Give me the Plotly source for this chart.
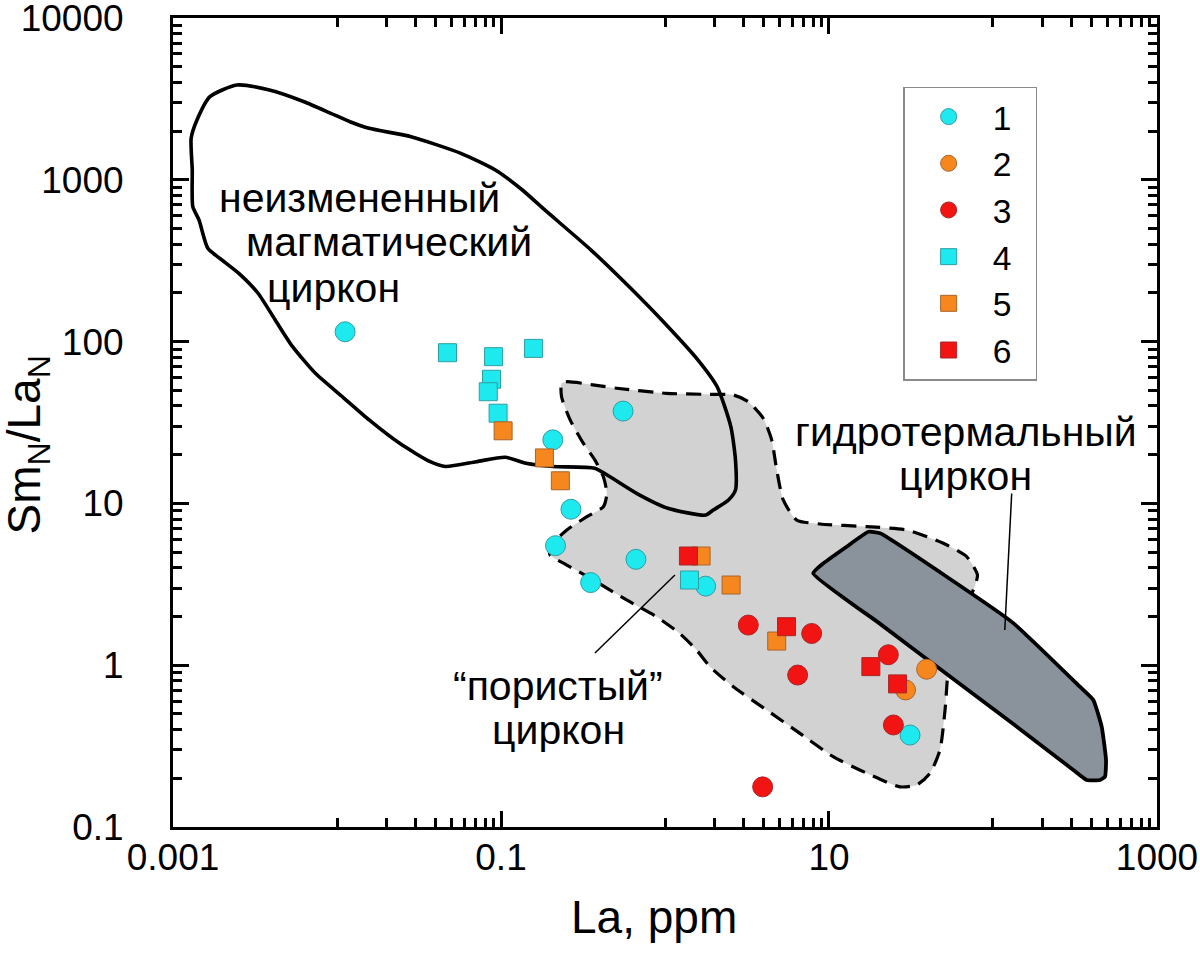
import numpy as np
import plotly.graph_objects as go

# --- data points (La, ppm ; SmN/LaN) ---
s1_la = [0.0112, 0.555, 0.207, 0.267, 0.215, 0.352, 0.665, 1.77, 31.2]
s1_smla = [115, 37.2, 24.7, 9.2, 5.48, 3.24, 4.51, 3.08, 0.37]
s2_la = [39.4, 29.3]
s2_smla = [0.944, 0.703]
s3_la = [3.22, 7.84, 6.44, 23.0, 24.7, 3.94]
s3_smla = [1.77, 1.57, 0.869, 1.16, 0.427, 0.177]
s4_la = [0.0472, 0.0901, 0.158, 0.0875, 0.0836, 0.096, 1.41]
s4_smla = [85.4, 80.7, 90.8, 58.5, 49.0, 36.1, 3.36]
s5_la = [0.103, 0.184, 0.230, 1.66, 2.53, 4.80]
s5_smla = [28.1, 19.1, 13.8, 4.73, 3.13, 1.41]
s6_la = [1.39, 5.51, 18.0, 26.2]
s6_smla = [4.73, 1.73, 0.98, 0.766]

# --- field outlines ---
magm_la = [0.00245, 0.00168, 0.0014, 0.00129, 0.00131, 0.00132, 0.00144, 0.00163, 0.00193, 0.00252,
           0.0033, 0.0042, 0.00536, 0.00738, 0.0108, 0.0157, 0.0241, 0.037, 0.0459, 0.0707,
           0.106, 0.142, 0.206, 0.373, 0.462, 0.675, 1.04, 1.77, 1.97, 2.44,
           2.69, 2.69, 2.52, 2.08, 1.59, 1.04, 0.605, 0.354, 0.185, 0.135,
           0.0923, 0.0569, 0.0283, 0.0157, 0.012, 0.00917, 0.0063, 0.00387, 0.00245]
magm_smla = [3855, 3265, 2344, 1805, 1150, 682, 565, 377, 327, 264,
             199, 136, 93, 63.7, 45.6, 32.8, 23.5, 18.1, 16.9, 18.1,
             19.3, 17.7, 16.9, 16.5, 14.6, 11.5, 9.33, 8.47, 9.1, 10.5,
             12.1, 18.5, 29.8, 52.6, 76.9, 124, 218, 368, 651, 865,
             1150, 1458, 1847, 2080, 2286, 2576, 3038, 3590, 3855]

por_la = [0.234, 0.252, 0.507, 1.02, 1.80, 2.61, 3.22, 3.97, 4.47, 4.80,
          5.26, 6.35, 8.81, 17.0, 29.8, 49.8, 69.1, 80.4, 75.9, 62.9,
          54.7, 51.0, 47.5, 41.3, 34.3, 27.1, 17.0, 10.6, 6.65, 4.17,
          2.61, 1.88, 1.56, 1.23, 0.889, 0.583, 0.366, 0.252, 0.199, 0.199,
          0.252, 0.334, 0.421, 0.442, 0.421, 0.374, 0.318, 0.264, 0.234, 0.234]
por_smla = [55.2, 56.5, 51.5, 47.9, 47.2, 46.8, 42.5, 33.6, 24.7, 16.1,
            10.5, 7.89, 7.46, 7.18, 6.85, 5.67, 4.69, 3.61, 2.92, 2.04,
            1.24, 0.528, 0.299, 0.215, 0.182, 0.177, 0.215, 0.272, 0.379, 0.528,
            0.736, 0.979, 1.24, 1.57, 1.99, 2.53, 3.36, 4.16, 4.80, 5.40,
            6.85, 8.28, 9.54, 11.5, 14.6, 18.5, 23.5, 32.8, 45.6, 55.2]

hyd_la = [8.02, 9.23, 12.8, 17.4, 20.5, 52.2, 133, 339, 409, 460, 489, 482, 449, 373, 309, 133, 52.2, 20.5, 8.02]
hyd_smla = [3.70, 4.26, 5.40, 6.68, 6.53, 3.52, 1.82, 0.736, 0.610, 0.417, 0.259, 0.205, 0.195, 0.195, 0.225,
            0.433, 0.883, 1.80, 3.70]

lead_por_la = [0.374, 1.15]
lead_por_smla = [1.19, 3.61]
lead_hyd_la = [130, 118]
lead_hyd_smla = [11.5, 1.65]

x_ticks = [0.001, 0.1, 10, 1000]
x_labels = ["0.001", "0.1", "10", "1000"]
y_ticks = [0.1, 1, 10, 100, 1000, 10000]
y_labels = ["0.1", "1", "10", "100", "1000", "10000"]

FONT = "Liberation Sans, Arial, sans-serif"
CYAN, CYAN_E = "#1ee9ee", "#2f9ea3"
ORANGE, ORANGE_E = "#f6871f", "#a8642c"
RED, RED_E = "#f21313", "#a8262a"

fig = go.Figure()

# porous zircon field (light grey, dashed)
fig.add_trace(go.Scatter(x=por_la, y=por_smla, mode="lines", fill="toself", fillcolor="#d2d2d2",
                         line=dict(color="black", width=3.2, dash="15px,9px", shape="spline", smoothing=0.6),
                         hoverinfo="skip", showlegend=False))
# unaltered magmatic zircon field
fig.add_trace(go.Scatter(x=magm_la, y=magm_smla, mode="lines",
                         line=dict(color="black", width=3.6, shape="spline", smoothing=0.6),
                         hoverinfo="skip", showlegend=False))
# hydrothermal zircon field
fig.add_trace(go.Scatter(x=hyd_la, y=hyd_smla, mode="lines", fill="toself", fillcolor="#8a939b",
                         line=dict(color="black", width=3.8, shape="spline", smoothing=0.4),
                         hoverinfo="skip", showlegend=False))
# leader lines
for lx, ly in [(lead_por_la, lead_por_smla), (lead_hyd_la, lead_hyd_smla)]:
    fig.add_trace(go.Scatter(x=lx, y=ly, mode="lines", line=dict(color="black", width=1.5),
                             hoverinfo="skip", showlegend=False))

series = [
    ("1", s1_la, s1_smla, "circle", CYAN, CYAN_E, 20),
    ("2", s2_la, s2_smla, "circle", ORANGE, ORANGE_E, 20),
    ("3", s3_la, s3_smla, "circle", RED, RED_E, 20),
    ("4", s4_la, s4_smla, "square", CYAN, CYAN_E, 18),
    ("5", s5_la, s5_smla, "square", ORANGE, ORANGE_E, 18),
    ("6", s6_la, s6_smla, "square", RED, RED_E, 18),
]
for name, xs, ys, sym, col, edge, size in series:
    fig.add_trace(go.Scatter(x=xs, y=ys, mode="markers", name=name + "\u00a0\u00a0",
                             marker=dict(symbol=sym, size=size, color=col, line=dict(color=edge, width=1))))

# field labels: (text, La, SmN/LaN, anchor)
labels = [
    ("неизмененный", 0.00185, 770, "left"),
    ("магматический", 0.00271, 410, "left"),
    ("циркон", 0.00364, 214, "left"),
    ("гидротермальный", 68.4, 27.6, "center"),
    ("циркон", 68.4, 14.8, "center"),
    ("“пористый”", 0.224, 0.743, "center"),
    ("циркон", 0.224, 0.398, "center"),
]
for txt, lx, ly, anc in labels:
    fig.add_annotation(x=np.log10(lx), y=np.log10(ly), text=txt, showarrow=False,
                       xanchor=anc, yanchor="middle", font=dict(size=41, color="black", family=FONT))

# axis titles
fig.add_annotation(x=0.489, y=-0.111, xref="paper", yref="paper", text="La, ppm", showarrow=False,
                   xanchor="center", yanchor="middle", font=dict(size=46, color="black", family=FONT))
fig.add_annotation(x=-0.148, y=0.472, xref="paper", yref="paper", text="Sm<sub>N</sub>/La<sub>N</sub>",
                   textangle=-90, showarrow=False, xanchor="center", yanchor="middle",
                   font=dict(size=46, color="black", family=FONT))

minor_x = [k * 10.0 ** e for e in (-2, 0, 2) for k in range(1, 10)]
minor_y = [k * 10.0 ** e for e in range(-1, 4) for k in range(2, 10)]

axis_common = dict(type="log", showline=True, linecolor="black", linewidth=3, mirror="ticks",
                   ticks="inside", tickcolor="black", tickwidth=3, ticklen=16, showgrid=False,
                   zeroline=False, automargin=False, ticklabeloverflow="allow",
                   tickfont=dict(size=37, color="black", family=FONT))

fig.update_xaxes(range=[-3.0001, 3.0001], tickmode="array", tickvals=x_ticks, ticktext=x_labels,
                 ticklabelstandoff=-4,
                 minor=dict(tickmode="array", tickvals=minor_x, ticks="inside", ticklen=9,
                            tickwidth=2.5, tickcolor="black", showgrid=False),
                 **axis_common)
fig.update_yaxes(range=[-1.0001, 4.0001], tickmode="array", tickvals=y_ticks, ticktext=y_labels,
                 ticklabelstandoff=39,
                 minor=dict(tickmode="array", tickvals=minor_y, ticks="inside", ticklen=9,
                            tickwidth=2.5, tickcolor="black", showgrid=False),
                 **axis_common)

fig.update_layout(
    width=1200, height=963,
    margin=dict(l=173, r=43, t=18, b=136),
    plot_bgcolor="white", paper_bgcolor="white",
    font=dict(family=FONT, color="black"),
    legend=dict(x=0.742, y=0.915, xanchor="left", yanchor="top",
                bgcolor="white", bordercolor="#8a8a8a", borderwidth=1.5,
                font=dict(size=33.6, color="black", family=FONT), itemwidth=78),
    showlegend=True,
)

# drop the browser's default 8px body margin so the figure sits at the page corner
fig.write_html("out.html", config={"displayModeBar": False},
               post_script="document.body.style.margin = '0';")
